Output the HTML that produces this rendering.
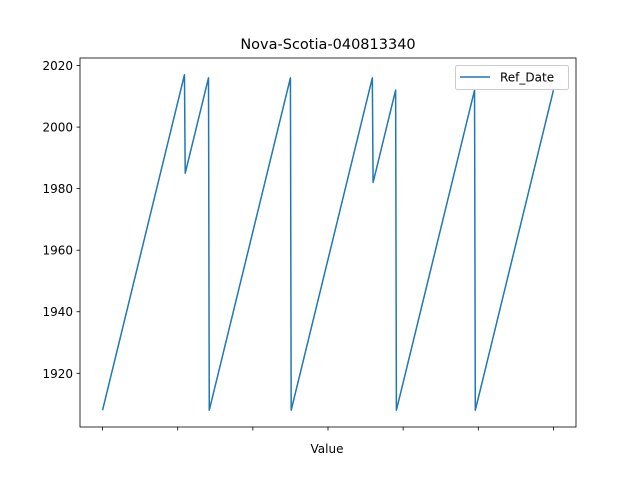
<!DOCTYPE html>
<html><head><meta charset="utf-8"><style>
body{margin:0;background:#fff}
svg text{font-family:"DejaVu Sans","Liberation Sans",sans-serif;fill:#000}
</style></head><body>
<svg id="chart" width="640" height="480" xmlns="http://www.w3.org/2000/svg">
<rect width="640" height="480" fill="#fff"/>
<text x="328" y="49" font-size="14.5" text-anchor="middle">Nova-Scotia-040813340</text>
<g id="yticks"></g>
<g id="xticks"></g>
<path id="line" fill="none" stroke="#1f77b4" stroke-width="1.5" stroke-linejoin="round"/>
<rect x="80" y="58" width="496" height="369" fill="none" stroke="#000" stroke-width="0.8"/>
<text x="327" y="453" font-size="12" text-anchor="middle">Value</text>
<g>
<rect x="455.5" y="65.5" width="113" height="24" rx="2" fill="#fff" fill-opacity="0.8" stroke="#ccc" stroke-width="1"/>
<line x1="460" y1="77" x2="490" y2="77" stroke="#1f77b4" stroke-width="1.5"/>
<text x="500" y="81.5" font-size="12">Ref_Date</text>
</g>
</svg>
<script>
const segStart=[1908,1985,1908,1908,1982,1908,1908];
const segEnd=[2017,2016,2016,2016,2012,2012,2012];
const yTicks=[1920,1940,1960,1980,2000,2020];
const xTicks=[0,100,200,300,400,500,600];
const values=[];
for(let s=0;s<segStart.length;s++){for(let y=segStart[s];y<=segEnd[s];y++)values.push(y);}
const L=80,R=576,T=58,B=427;
const n=values.length-1;
const xmin=-0.05*n,xmax=n*1.05;
const vmin=Math.min(...values),vmax=Math.max(...values),m=(vmax-vmin)*0.05;
const ylo=vmin-m,yhi=vmax+m;
const xs=i=>L+(i-xmin)/(xmax-xmin)*(R-L);
const ys=v=>B-(v-ylo)/(yhi-ylo)*(B-T);
const NS="http://www.w3.org/2000/svg";
document.getElementById('line').setAttribute('d',values.map((v,i)=>(i?'L':'M')+xs(i).toFixed(2)+','+ys(v).toFixed(2)).join(''));
const yg=document.getElementById('yticks');
yTicks.forEach(t=>{const y=ys(t);
const l=document.createElementNS(NS,'line');l.setAttribute('x1',L-3.5);l.setAttribute('x2',L);l.setAttribute('y1',y);l.setAttribute('y2',y);l.setAttribute('stroke','#000');l.setAttribute('stroke-width','0.8');


yg.appendChild(l);
const tx=document.createElementNS(NS,'text');tx.setAttribute('x',L-7);tx.setAttribute('y',y+4.5);tx.setAttribute('font-size','12');tx.setAttribute('text-anchor','end');tx.textContent=t;


yg.appendChild(tx);});
const xg=document.getElementById('xticks');
xTicks.forEach(t=>{const x=xs(t);
const l=document.createElementNS(NS,'line');l.setAttribute('x1',x);l.setAttribute('x2',x);l.setAttribute('y1',B);l.setAttribute('y2',B+3.5);l.setAttribute('stroke','#000');l.setAttribute('stroke-width','0.8');


xg.appendChild(l);});
</script>
</body></html>
